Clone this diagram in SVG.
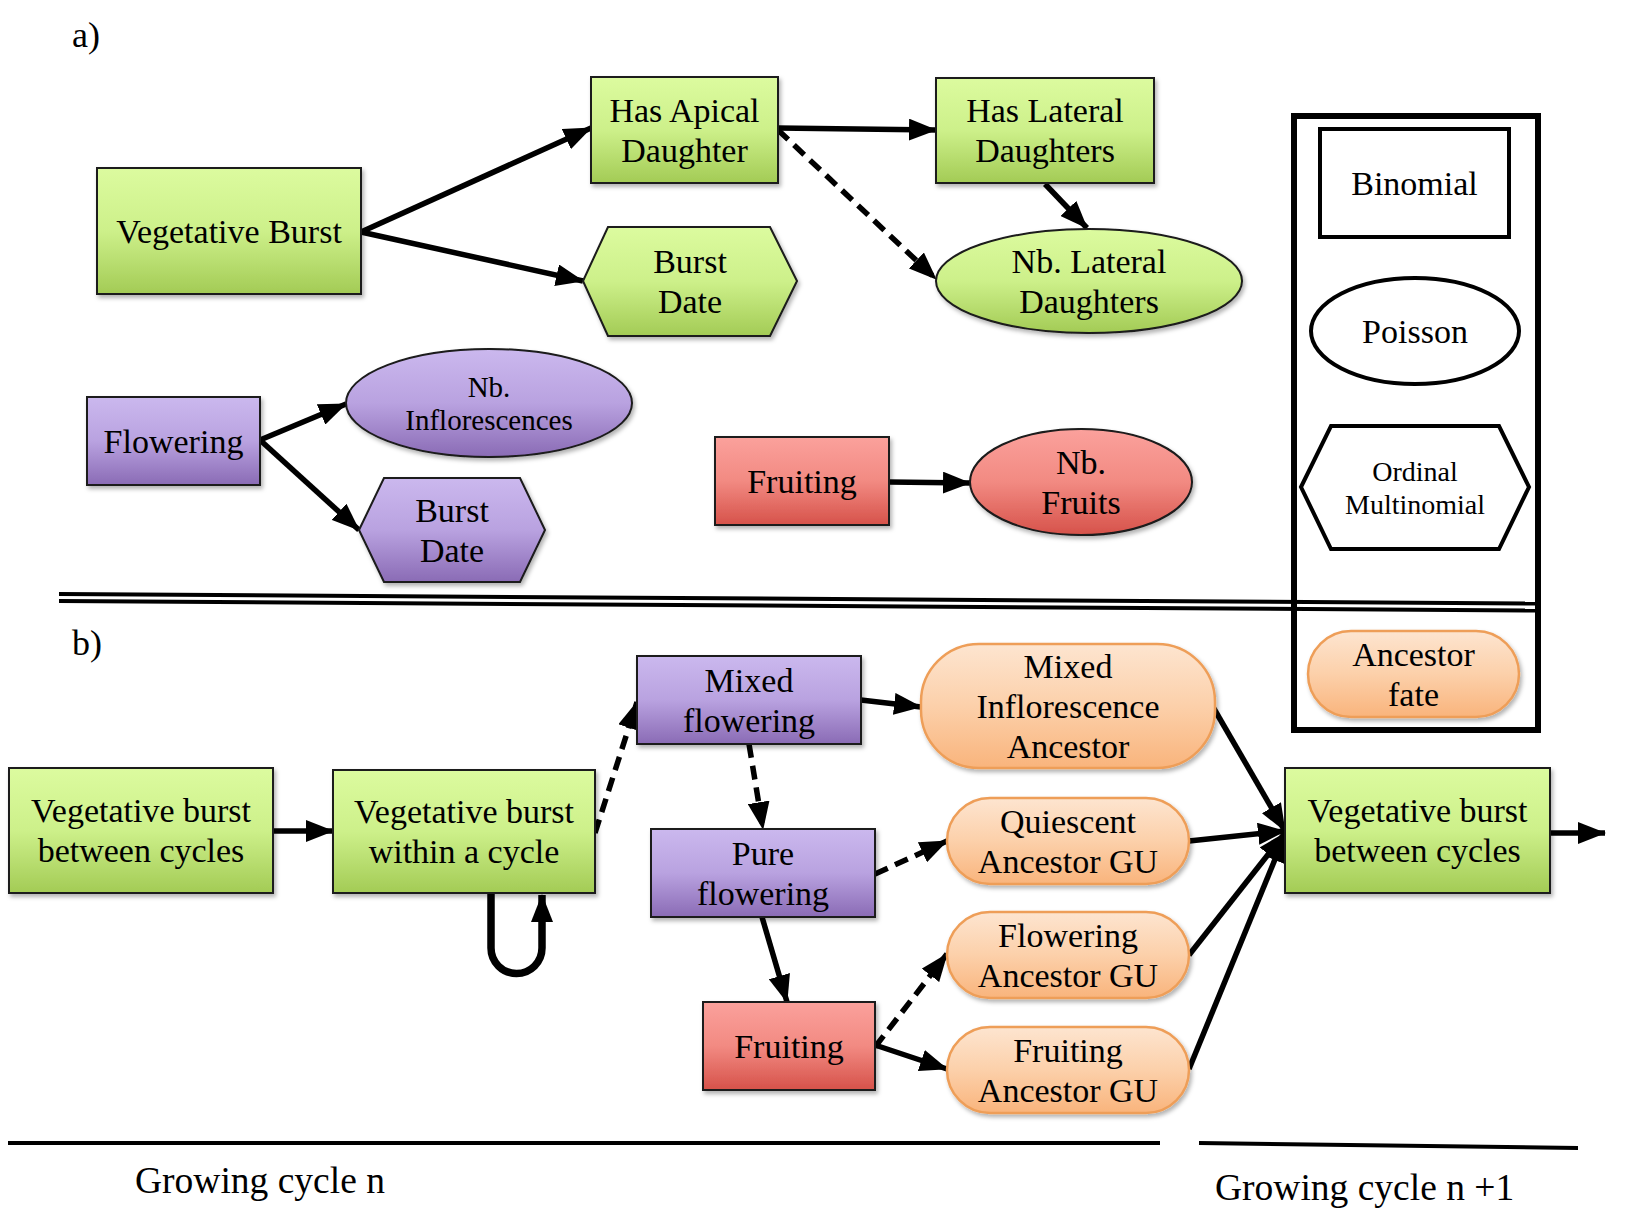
<svg xmlns="http://www.w3.org/2000/svg" width="1641" height="1231" viewBox="0 0 1641 1231">
<style>
text{font-family:"Liberation Serif","Times New Roman",serif;font-size:34px;fill:#000;text-anchor:middle}
.sm{font-size:29px}
.sm2{font-size:28px}
.lbl{font-size:36px;text-anchor:start}
.cyc{font-size:37.5px;text-anchor:start}
.g{fill:url(#gG);stroke:#1a1a1a;stroke-width:2;filter:url(#sh)}
.p{fill:url(#gP);stroke:#1a1a1a;stroke-width:2;filter:url(#sh)}
.r{fill:url(#gR);stroke:#1a1a1a;stroke-width:2;filter:url(#sh)}
.o{fill:url(#gO);stroke:#ee9e58;stroke-width:2.5;filter:url(#sh)}
.leg{fill:#fff;stroke:#000;stroke-width:4}
.c{fill:none;stroke:#000;stroke-width:5.5;marker-end:url(#ah)}
.d{stroke-dasharray:14 8}
.sep{stroke:#000;stroke-width:4;fill:none}
</style>
<defs>
<linearGradient id="gG" x1="0" y1="0" x2="0" y2="1"><stop offset="0" stop-color="#dcfb9f"/><stop offset="0.5" stop-color="#cdf08a"/><stop offset="1" stop-color="#a3cb55"/></linearGradient>
<linearGradient id="gP" x1="0" y1="0" x2="0" y2="1"><stop offset="0" stop-color="#cbb8ee"/><stop offset="0.5" stop-color="#b9a2e0"/><stop offset="1" stop-color="#8a6bb5"/></linearGradient>
<linearGradient id="gR" x1="0" y1="0" x2="0" y2="1"><stop offset="0" stop-color="#fba19c"/><stop offset="0.5" stop-color="#f28a82"/><stop offset="1" stop-color="#d6524a"/></linearGradient>
<linearGradient id="gO" x1="0" y1="0" x2="0" y2="1"><stop offset="0" stop-color="#fde5d0"/><stop offset="0.5" stop-color="#fcd0aa"/><stop offset="1" stop-color="#f9b47c"/></linearGradient>
<filter id="sh" x="-10%" y="-10%" width="125%" height="130%"><feDropShadow dx="2" dy="3" stdDeviation="2" flood-color="#000" flood-opacity="0.3"/></filter>
<marker id="ah" markerUnits="userSpaceOnUse" markerWidth="28" markerHeight="22" refX="27" refY="11" orient="auto"><path d="M0,0 L28,11 L0,22 z" fill="#000"/></marker>
</defs>

<text class="lbl" x="72" y="47">a)</text>
<text class="lbl" x="72" y="655">b)</text>

<g id="connectors">
<path class="c" d="M361,232 L591,128"/>
<path class="c" d="M361,232 L583,281"/>
<path class="c" d="M778,128 L936,130"/>
<path class="c d" d="M778,130 L936,279"/>
<path class="c" d="M1045,184 L1087,228"/>
<path class="c" d="M260,440 L346,404"/>
<path class="c" d="M260,440 L359,530"/>
<path class="c" d="M889,482 L970,483"/>
<path class="c" d="M273,831 L333,831"/>
<path class="c d" d="M595,833 L637,702"/>
<path class="c d" d="M749,744 L763,829"/>
<path class="c" d="M762,917 L787,1002"/>
<path class="c" d="M861,700 L921,707"/>
<path class="c d" d="M875,874 L947,841"/>
<path class="c d" d="M875,1047 L947,954"/>
<path class="c" d="M875,1045 L947,1069"/>
<path class="c" d="M1213,707 L1285,831"/>
<path class="c" d="M1189,841 L1285,831"/>
<path class="c" d="M1189,955 L1285,833"/>
<path class="c" d="M1189,1069 L1285,835"/>
<path class="c" d="M1550,833 L1605,833"/>
<path class="c" style="stroke-width:7.5" d="M491,893 L491,948 A25.5,25.5 0 0 0 542,948 L542,895"/>
</g>

<g id="separators">
<path class="sep" d="M59,594 L1541,603.6"/>
<path class="sep" d="M59,601 L1541,610.6"/>
<path class="sep" d="M8,1143 L1160,1143"/>
<path class="sep" d="M1199,1143 L1578,1148"/>
</g>

<g id="n-vb"><rect class="g" x="97" y="168" width="264" height="126"/><text x="229" y="243">Vegetative Burst</text></g>
<g id="n-apical"><rect class="g" x="591" y="77" width="187" height="106"/><text x="684.5" y="122">Has Apical</text><text x="684.5" y="162">Daughter</text></g>
<g id="n-lateral"><rect class="g" x="936" y="78" width="218" height="105"/><text x="1045" y="122">Has Lateral</text><text x="1045" y="162">Daughters</text></g>
<g id="n-burstdate-g"><polygon class="g" points="583,281 608,227 770,227 797,281 770,336 608,336"/><text x="690" y="273">Burst</text><text x="690" y="313">Date</text></g>
<g id="n-nblateral"><ellipse class="g" cx="1089" cy="281" rx="153" ry="52"/><text x="1089" y="273">Nb. Lateral</text><text x="1089" y="313">Daughters</text></g>
<g id="n-flowering"><rect class="p" x="87" y="397" width="173" height="88"/><text x="173.5" y="453">Flowering</text></g>
<g id="n-nbinfl"><ellipse class="p" cx="489" cy="403" rx="143" ry="54"/><text class="sm" x="489" y="397">Nb.</text><text class="sm" x="489" y="430">Inflorescences</text></g>
<g id="n-burstdate-p"><polygon class="p" points="359,530 384,478 520,478 545,530 520,582 384,582"/><text x="452" y="522">Burst</text><text x="452" y="562">Date</text></g>
<g id="n-fruiting-a"><rect class="r" x="715" y="437" width="174" height="88"/><text x="802" y="493">Fruiting</text></g>
<g id="n-nbfruits"><ellipse class="r" cx="1081" cy="482" rx="111" ry="53"/><text x="1081" y="474">Nb.</text><text x="1081" y="514">Fruits</text></g>

<g id="legend">
<rect x="1294" y="116" width="244" height="614" fill="none" stroke="#000" stroke-width="6"/>
<g id="leg-binomial"><rect class="leg" x="1320" y="129" width="189" height="108"/><text x="1414.5" y="195">Binomial</text></g>
<g id="leg-poisson"><ellipse class="leg" cx="1415" cy="331" rx="104" ry="53"/><text x="1415" y="343">Poisson</text></g>
<g id="leg-ordinal"><polygon class="leg" points="1301,487 1331,426 1499,426 1529,487 1499,549 1331,549"/><text class="sm2" x="1415" y="481">Ordinal</text><text class="sm2" x="1415" y="514">Multinomial</text></g>
<g id="leg-ancestor"><rect class="o" x="1308" y="631" width="211" height="86" rx="43"/><text x="1413.5" y="666">Ancestor</text><text x="1413.5" y="706">fate</text></g>
</g>

<g id="n-vb-between"><rect class="g" x="9" y="768" width="264" height="125"/><text x="141" y="822">Vegetative burst</text><text x="141" y="862">between cycles</text></g>
<g id="n-vb-within"><rect class="g" x="333" y="770" width="262" height="123"/><text x="464" y="823">Vegetative burst</text><text x="464" y="863">within a cycle</text></g>
<g id="n-mixed"><rect class="p" x="637" y="656" width="224" height="88"/><text x="749" y="692">Mixed</text><text x="749" y="732">flowering</text></g>
<g id="n-pure"><rect class="p" x="651" y="829" width="224" height="88"/><text x="763" y="865">Pure</text><text x="763" y="905">flowering</text></g>
<g id="n-fruiting-b"><rect class="r" x="703" y="1002" width="172" height="88"/><text x="789" y="1058">Fruiting</text></g>
<g id="n-mia"><rect class="o" x="921" y="644" width="294" height="124" rx="58"/><text x="1068" y="678">Mixed</text><text x="1068" y="718">Inflorescence</text><text x="1068" y="758">Ancestor</text></g>
<g id="n-qagu"><rect class="o" x="947" y="798" width="242" height="86" rx="43"/><text x="1068" y="833">Quiescent</text><text x="1068" y="873">Ancestor GU</text></g>
<g id="n-flagu"><rect class="o" x="947" y="912" width="242" height="86" rx="43"/><text x="1068" y="947">Flowering</text><text x="1068" y="987">Ancestor GU</text></g>
<g id="n-fragu"><rect class="o" x="947" y="1027" width="242" height="86" rx="43"/><text x="1068" y="1062">Fruiting</text><text x="1068" y="1102">Ancestor GU</text></g>
<g id="n-vb-next"><rect class="g" x="1285" y="768" width="265" height="125"/><text x="1417.5" y="822">Vegetative burst</text><text x="1417.5" y="862">between cycles</text></g>

<text class="cyc" x="135" y="1193">Growing cycle n</text>
<text class="cyc" x="1215" y="1200">Growing cycle n +1</text>
</svg>
